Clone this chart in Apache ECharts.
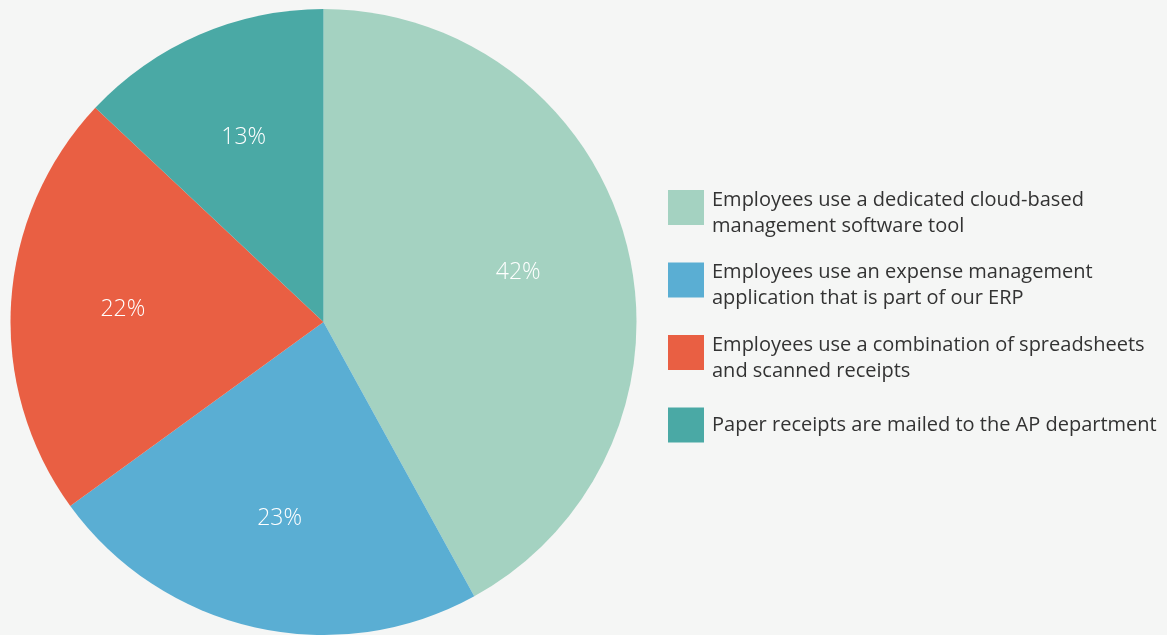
<!DOCTYPE html>
<html>
<head>
<meta charset="utf-8">
<title>Expense reporting methods</title>
<script src="https://cdn.jsdelivr.net/npm/echarts@6/dist/echarts.min.js"></script>
<style>
  html, body { margin: 0; padding: 0; background: #f5f6f5; }
  #chart { width: 1167px; height: 635px; }
</style>
</head>
<body>
<div id="chart"></div>
<script>
// How employees submit expense receipts (share of respondents, %)
const categories = [
  'Employees use a dedicated cloud-based\nmanagement software tool',
  'Employees use an expense management\napplication that is part of our ERP',
  'Employees use a combination of spreadsheets\nand scanned receipts',
  'Paper receipts are mailed to the AP department'
];
const shares = [42, 23, 22, 13];
const palette = ['#a4d2c1', '#5aaed3', '#e95f43', '#4aa9a5'];

const pieData = categories.map((name, i) => ({ name: name, value: shares[i] }));

// Legend entries: two-line entries sit slightly lower than their swatch,
// one-line entries are padded symmetrically so all rows keep the same pitch.
const legendData = categories.map(name => {
  const lines = name.split('\n').length;
  return {
    name: name,
    textStyle: { padding: lines > 1 ? [11, 0, 0, 3] : [18.5, 0, 18.5, 3] }
  };
});

const chart = echarts.init(document.getElementById('chart'), null, { renderer: 'canvas' });

chart.setOption({
  backgroundColor: '#f5f6f5',
  color: palette,
  animation: false,
  legend: {
    orient: 'vertical',
    left: 668,
    top: 176,
    padding: 0,
    itemGap: 9.5,
    itemWidth: 36,
    itemHeight: 35,
    icon: 'rect',
    selectedMode: false,
    data: legendData,
    textStyle: {
      fontFamily: 'Open Sans',
      fontSize: 20,
      lineHeight: 26,
      color: '#333333',
      // rich mode lays the lines out from the padded box top
      rich: { t: {} }
    }
  },
  series: [
    {
      type: 'pie',
      center: [323.5, 322],
      radius: [0, 313],
      startAngle: 90,
      clockwise: true,
      data: pieData,
      label: { show: false },
      labelLine: { show: false },
      emphasis: { disabled: true },
      itemStyle: { borderWidth: 0 }
    },
    {
      // percentage labels, placed further out than the default inside radius
      type: 'pie',
      center: [323.5, 322],
      radius: [0, 396],
      startAngle: 90,
      clockwise: true,
      silent: true,
      data: pieData,
      itemStyle: { color: 'rgba(0,0,0,0)', borderWidth: 0 },
      labelLine: { show: false },
      label: {
        show: true,
        position: 'inside',
        formatter: '{c}%',
        color: '#ffffff',
        fontFamily: 'Open Sans',
        fontWeight: 300,
        fontSize: 23
      }
    }
  ]
});
</script>
</body>
</html>
